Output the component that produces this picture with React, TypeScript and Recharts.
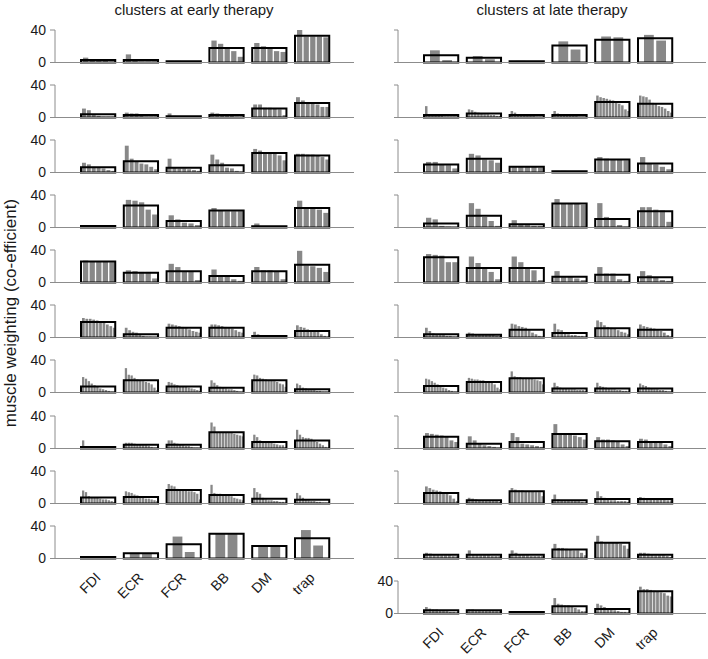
import { BarChart, Bar, XAxis, YAxis } from 'recharts';

const MUSCLES = ['FDI', 'ECR', 'FCR', 'BB', 'DM', 'trap'];

// clusters at early therapy: black box = cluster value, grey bars = members
const earlyMean1 = [3, 3, 1.5, 18, 18, 33];
const earlySubj1 = [[6, 3, 2, 2, 1], [10, 2, 1, 1, 1], [2, 2, 1, 1, 1], [27, 23, 19, 14, 7], [24, 20, 19, 14, 13], [40, 32, 32, 32, 31]];
const earlyMean2 = [4, 3, 1.5, 3, 11, 18];
const earlySubj2 = [[11, 9, 3, 2, 1, 1, 1], [6, 5, 5, 4, 1, 1, 1], [5, 2, 1, 1, 1, 1, 0.5], [6, 5, 4, 2, 2, 1, 1], [16, 16, 12, 12, 11, 10, 3], [25, 21, 19, 18, 16, 13, 13]];
const earlyMean3 = [6.5, 14, 6, 9, 24, 21];
const earlySubj3 = [[12, 10, 7, 6, 5, 3, 2], [33, 17, 13, 11, 10, 7, 4], [17, 6, 5, 5, 4, 3, 2], [22, 16, 12, 6, 5, 2, 1], [29, 27, 25, 24, 24, 21, 15], [23, 23, 22, 22, 21, 19, 16]];
const earlyMean4 = [2, 27, 8, 21, 1.5, 24];
const earlySubj4 = [[3, 2, 2, 2, 1], [34, 33, 31, 22, 16], [15, 10, 6, 5, 3], [24, 21, 20, 20, 20], [5, 1, 1, 1, 0.5], [33, 25, 24, 22, 18]];
const earlyMean5 = [26, 12, 14, 8, 14, 22];
const earlySubj5 = [[27, 26, 26, 26, 25], [15, 14, 13, 13, 5], [23, 19, 14, 13, 3], [16, 9, 8, 4, 2], [19, 15, 15, 14, 4], [39, 21, 20, 18, 13]];
const earlyMean6 = [19, 4, 12, 12, 2, 8];
const earlySubj6 = [[24, 23, 23, 22, 21, 20, 18, 16, 14, 12], [12, 9, 7, 6, 3, 2, 1, 1, 0.5, 0.5], [17, 16, 15, 14, 13, 12, 10, 8, 7, 6], [16, 16, 15, 14, 13, 12, 11, 9, 7, 6], [7, 4, 2, 2, 1, 1, 1, 1, 1, 0.5], [15, 13, 12, 10, 9, 8, 7, 4, 2, 1]];
const earlyMean7 = [7.5, 15, 7.5, 6, 15, 4];
const earlySubj7 = [[19, 17, 14, 11, 9, 7, 5, 4, 3, 2, 1, 1], [30, 22, 21, 18, 16, 15, 14, 13, 12, 10, 6, 3], [13, 12, 10, 9, 8, 7, 7, 6, 5, 4, 3, 2], [15, 12, 9, 7, 6, 5, 4, 4, 3, 2, 1, 1], [22, 21, 18, 17, 16, 15, 15, 14, 13, 11, 10, 7], [11, 9, 6, 5, 4, 3, 3, 2, 2, 1, 1, 1]];
const earlyMean8 = [2, 4.5, 4.5, 20, 8, 10];
const earlySubj8 = [[10, 3, 2, 2, 2, 2, 1, 1, 1, 1, 1, 0.5], [7, 7, 7, 6, 5, 5, 4, 4, 3, 2, 1, 1], [10, 10, 7, 6, 5, 4, 3, 3, 2, 1, 1, 0.5], [32, 27, 20, 20, 20, 20, 19, 19, 18, 17, 16, 15], [17, 14, 10, 9, 8, 7, 7, 6, 5, 4, 4, 2], [23, 17, 14, 13, 13, 12, 10, 8, 6, 4, 2, 1]];
const earlyMean9 = [7.5, 8, 16.5, 10.5, 6, 4.5];
const earlySubj9 = [[16, 14, 9, 8, 8, 7, 6, 5, 5, 4, 3, 2], [15, 14, 13, 11, 10, 8, 7, 6, 6, 5, 4, 3], [24, 22, 21, 18, 17, 16, 16, 15, 15, 14, 12, 5], [23, 13, 12, 12, 11, 10, 10, 9, 7, 6, 5, 4], [19, 14, 12, 7, 5, 4, 4, 3, 3, 2, 2, 1], [13, 10, 7, 5, 4, 3, 3, 2, 2, 1, 1, 1]];
const earlyMean10 = [2, 6.5, 17.5, 30.5, 15.5, 25];
const earlySubj10 = [[2, 1.5], [7, 6], [27, 8], [31, 30], [16, 15], [35, 16]];

// clusters at late therapy
const lateMean1 = [9, 6, 1.5, 21, 28, 30];
const lateSubj1 = [[15, 3], [8, 4], [2, 1.5], [26, 16], [32, 31], [34, 27]];
const lateMean2 = [3, 5, 3, 3, 19, 17];
const lateSubj2 = [[14, 4, 3, 2, 2, 2, 1, 1, 1, 1, 0.5], [10, 9, 7, 6, 5, 4, 4, 3, 3, 2, 2], [8, 6, 4, 3, 3, 2, 2, 2, 1, 1, 1], [8, 5, 4, 3, 3, 2, 2, 2, 1, 1, 1], [27, 25, 24, 23, 22, 21, 19, 17, 15, 10, 8], [27, 26, 25, 22, 18, 17, 14, 13, 11, 8, 6]];
const lateMean3 = [10, 17, 7, 1.5, 16, 11];
const lateSubj3 = [[13, 13, 10, 9, 5], [23, 21, 16, 15, 12], [8, 7, 7, 7, 6], [2, 2, 1.5, 1, 1], [19, 17, 16, 16, 15], [19, 11, 10, 7, 4]];
const lateMean4 = [5, 14.5, 4, 29.5, 10.5, 20];
const lateSubj4 = [[12, 10, 2, 1, 0.5], [30, 23, 13, 8, 2], [9, 4, 3, 2, 2], [35, 30, 30, 29, 28], [30, 13, 11, 3, 1], [25, 25, 22, 21, 7]];
const lateMean5 = [31, 18, 18, 7, 9.5, 6.5];
const lateSubj5 = [[35, 34, 33, 25, 25], [32, 24, 18, 13, 4], [32, 25, 18, 15, 3], [14, 8, 7, 5, 3], [19, 11, 11, 4, 2], [14, 9, 6, 3, 2]];
const lateMean6 = [4, 3.5, 9.5, 5.5, 11.5, 9.5];
const lateSubj6 = [[12, 8, 5, 4, 3, 3, 2, 2, 1, 1], [6, 5, 4, 4, 4, 3, 3, 3, 2, 2], [17, 16, 14, 13, 12, 9, 6, 4, 2, 1], [17, 10, 9, 6, 4, 3, 3, 2, 2, 1], [21, 19, 15, 13, 12, 11, 9, 7, 6, 4], [16, 14, 13, 12, 11, 9, 8, 6, 3, 1]];
const lateMean7 = [8, 13, 17.5, 5, 5, 5];
const lateSubj7 = [[17, 16, 14, 12, 10, 8, 6, 5, 3, 2, 1, 1], [18, 17, 16, 16, 15, 15, 14, 13, 12, 10, 6, 4], [26, 20, 19, 19, 18, 18, 17, 17, 16, 15, 14, 10], [12, 8, 6, 5, 5, 4, 4, 4, 3, 3, 3, 2], [12, 8, 7, 6, 5, 4, 4, 3, 3, 2, 2, 1], [11, 9, 8, 6, 5, 4, 4, 3, 3, 2, 1, 1]];
const lateMean8 = [14.5, 6, 8, 18, 9, 8];
const lateSubj8 = [[19, 18, 17, 16, 15, 10, 8], [15, 10, 6, 4, 3, 2, 1], [19, 14, 6, 5, 4, 3, 2], [30, 18, 18, 18, 16, 14, 11], [14, 11, 11, 10, 9, 5, 3], [12, 11, 9, 8, 7, 5, 3]];
const lateMean9 = [13, 4, 15, 4, 5.5, 5.5];
const lateSubj9 = [[21, 19, 17, 16, 15, 13, 12, 10, 6, 3], [7, 6, 5, 4, 4, 3, 3, 3, 3, 2], [19, 17, 16, 16, 15, 15, 15, 14, 14, 9], [11, 5, 4, 4, 4, 3, 3, 3, 2, 1], [15, 9, 7, 5, 4, 4, 3, 3, 3, 2], [8, 7, 6, 6, 5, 5, 5, 5, 4, 4]];
const lateMean10 = [4.5, 4.5, 4.5, 11, 19.5, 4.5];
const lateSubj10 = [[7, 6, 5, 5, 4, 4, 4, 3, 3], [10, 5, 5, 4, 4, 4, 3, 3, 3], [10, 7, 5, 4, 4, 3, 3, 3, 3], [18, 13, 13, 12, 11, 10, 10, 7, 4], [28, 21, 20, 20, 20, 19, 18, 16, 12], [7, 7, 6, 5, 4, 4, 4, 3, 2]];
const lateMean11 = [4, 4, 2, 9, 5.5, 27.5];
const lateSubj11 = [[8, 6, 5, 5, 4, 3, 3, 2, 2, 1], [5, 5, 4, 4, 4, 4, 4, 3, 3, 3], [3, 2, 2, 2, 2, 2, 2, 2, 1, 1], [19, 12, 11, 10, 10, 9, 7, 5, 3, 3], [12, 10, 8, 6, 5, 4, 3, 2, 2, 1], [33, 30, 30, 29, 28, 27, 26, 25, 22, 21]];

const EARLY = [
  [earlyMean1, earlySubj1], [earlyMean2, earlySubj2], [earlyMean3, earlySubj3], [earlyMean4, earlySubj4],
  [earlyMean5, earlySubj5], [earlyMean6, earlySubj6], [earlyMean7, earlySubj7], [earlyMean8, earlySubj8],
  [earlyMean9, earlySubj9], [earlyMean10, earlySubj10],
];
const LATE = [
  [lateMean1, lateSubj1], [lateMean2, lateSubj2], [lateMean3, lateSubj3], [lateMean4, lateSubj4],
  [lateMean5, lateSubj5], [lateMean6, lateSubj6], [lateMean7, lateSubj7], [lateMean8, lateSubj8],
  [lateMean9, lateSubj9], [lateMean10, lateSubj10], [lateMean11, lateSubj11],
];

const FONT = '"Liberation Sans", Arial, Helvetica, sans-serif';
const GREY = '#888888';
const AXIS = '#8c8c8c';
const PLOT_H = 32.5;
const TOP = 8;
const BAND = 42.8;
const BOX_W = 0.8 * BAND;

function buildRows(means: number[], subj: number[][]) {
  return MUSCLES.map((m, i) => {
    const row: Record<string, any> = { muscle: m, mean: means[i] };
    subj[i].forEach((v, j) => {
      row['s' + j] = v;
    });
    return row;
  });
}

function CatTick(props: any) {
  const { x, y, payload } = props;
  const px = x + 3;
  const py = y + 20;
  return (
    <text x={px} y={py} transform={`rotate(-45 ${px} ${py})`} textAnchor="end"
      fontSize={14} fontFamily={FONT} fill="#1a1a1a">
      {payload.value}
    </text>
  );
}

interface PanelProps {
  means: number[];
  subj: number[][];
  left: number;
  zero: number;
  isLeft: boolean;
  labels: boolean;
  cats: boolean;
}

function Panel({ means, subj, left, zero, isLeft, labels, cats }: PanelProps) {
  const rows = buildRows(means, subj);
  const n = subj[0].length;
  // grouped-bar widths like matlab: group gets min(0.8, n/(n+1.5)) of the band
  const group = BAND * Math.min(0.8, n / (n + 1.5));
  const slot = group / n;
  const axisH = cats ? 64 : 10;
  const pad = isLeft ? { left: 22, right: 20.2 } : { left: 22, right: 29.2 };

  return (
    <div style={{ position: 'absolute', left, top: zero - PLOT_H - TOP }}>
      <BarChart width={isLeft ? 354 : 352} height={TOP + PLOT_H + axisH} data={rows}
        margin={{ top: TOP, right: 0, bottom: 0, left: 0 }} barGap={slot * 0.2}>
        <XAxis xAxisId="sub" dataKey="muscle" hide padding={pad} />
        <XAxis xAxisId="box" dataKey="muscle" padding={pad} height={axisH}
          axisLine={{ stroke: AXIS }} tickLine={false} tickSize={0} tickMargin={0} interval={0}
          tick={cats ? (p: any) => <CatTick {...p} /> : false} />
        <YAxis domain={[0, 40]} ticks={[0, 40]} interval={0} width={isLeft ? 55 : 44}
          axisLine={{ stroke: AXIS }} tickLine={{ stroke: AXIS }}
          tickSize={isLeft ? 5 : 4} tickMargin={isLeft ? 4 : 1}
          tickFormatter={labels ? undefined : () => ''}
          tick={{ fontSize: 14, fontFamily: FONT, fill: '#1a1a1a' }} />
        {Array.from({ length: n }, (_, j) => (
          <Bar key={j} xAxisId="sub" dataKey={'s' + j} fill={GREY} barSize={slot * 0.8} isAnimationActive={false} />
        ))}
        <Bar xAxisId="box" dataKey="mean" fill="none" stroke="#000" strokeWidth={2}
          barSize={BOX_W} isAnimationActive={false} />
      </BarChart>
    </div>
  );
}

export default function App() {
  const zeroAt = (i: number) => 62.3 + 55.1 * i;
  return (
    <div style={{ position: 'absolute', left: 0, top: 0, width: 708, height: 659, background: '#fff', fontFamily: FONT }}>
      <svg width={708} height={659} style={{ position: 'absolute', left: 0, top: 0 }}>
        <text x={194} y={14.5} textAnchor="middle" fontSize={15} fontFamily={FONT} fill="#1a1a1a">
          clusters at early therapy
        </text>
        <text x={552} y={14.5} textAnchor="middle" fontSize={15} fontFamily={FONT} fill="#1a1a1a">
          clusters at late therapy
        </text>
        <text x={10} y={313} transform="rotate(-90 10 313)" textAnchor="middle" dominantBaseline="central"
          fontSize={17} fontFamily={FONT} fill="#1a1a1a">
          muscle weighting (co-efficient)
        </text>
      </svg>
      {EARLY.map(([m, s], i) => (
        <Panel key={'e' + i} means={m as number[]} subj={s as number[][]} left={0} zero={zeroAt(i)}
          isLeft labels cats={i === EARLY.length - 1} />
      ))}
      {LATE.map(([m, s], i) => (
        <Panel key={'l' + i} means={m as number[]} subj={s as number[][]} left={354} zero={zeroAt(i)}
          isLeft={false} labels={i === LATE.length - 1} cats={i === LATE.length - 1} />
      ))}
    </div>
  );
}
